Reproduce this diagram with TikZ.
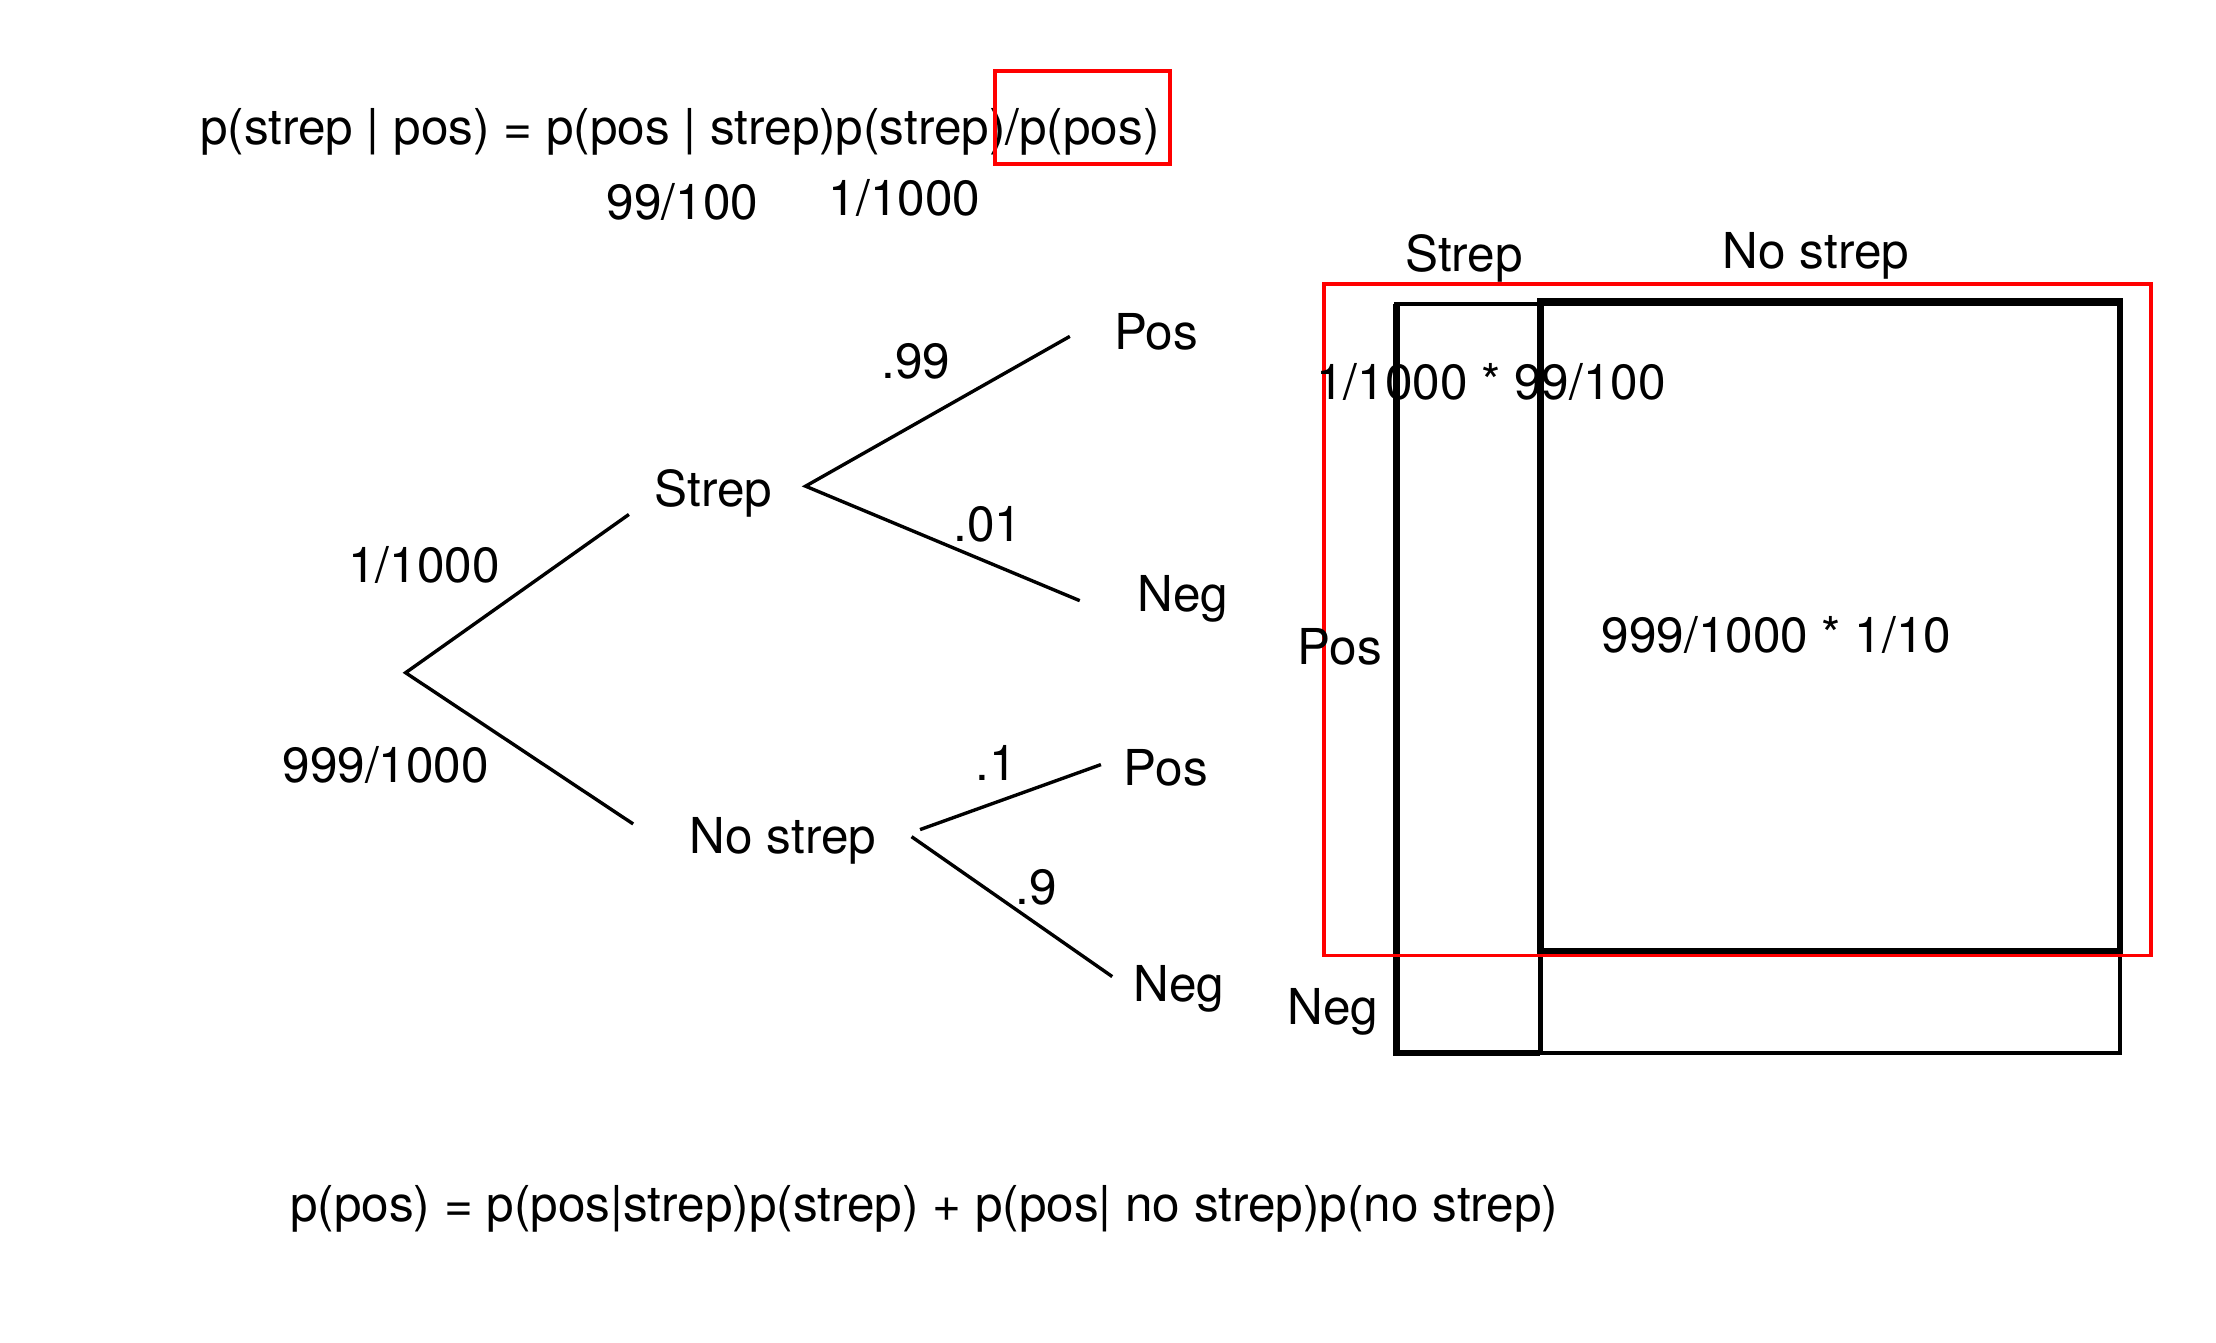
\documentclass[tikz,border=0pt]{standalone}
\usepackage{fontspec}
\setmainfont{TeX Gyre Heros}
\begin{document}
\begin{tikzpicture}[x=0.5pt,y=-0.5pt,
  txt/.style={inner sep=0pt,yshift=-1pt,font=\fontsize{17.5}{21}\selectfont},
  branch/.style={line width=1.2pt},
  redbox/.style={draw=red,line width=1.3pt}]
\useasboundingbox (0,0) rectangle (1568,950);
% formulas
\node[txt] (bayes) at (481,91) {p(strep | pos) = p(pos | strep)p(strep)/p(pos)};
\node[txt] (likel) at (483,141) {99/100};
\node[txt] (prior) at (640,138) {1/1000};
\draw[redbox] (704,50) rectangle (828,116);
\node[txt] (total) at (654,853) {p(pos) = p(pos|strep)p(strep) + p(pos| no strep)p(no strep)};
% tree
\coordinate (root) at (287,476);
\coordinate (s0) at (445,364);
\coordinate (n0) at (448,583);
\coordinate (s1) at (570,344);
\coordinate (sp) at (757,238);
\coordinate (sn) at (764,425);
\coordinate (n1) at (651,587);
\coordinate (np) at (779,541);
\coordinate (n2) at (645,592);
\coordinate (nn) at (787,691);
\draw[branch] (s0)--(root)--(n0);
\draw[branch] (sp)--(s1)--(sn);
\draw[branch] (n1)--(np);
\draw[branch] (n2)--(nn);
\node[txt] (strep) at (505,347) {Strep};
\node[txt] (nostrep) at (554,593) {No strep};
\node[txt] (ps) at (300,398) {1/1000};
\node[txt] (pns) at (273,539) {999/1000};
\node[txt] (spos) at (818,233) {Pos};
\node[txt] (sneg) at (837,422) {Neg};
\node[txt] (nspos) at (825,541) {Pos};
\node[txt] (nsneg) at (834,698) {Neg};
\node[txt] (p99) at (648,254) {.99};
\node[txt] (p01) at (699,369) {.01};
\node[txt] (p1) at (705,538) {.1};
\node[txt] (p9) at (733,626) {.9};
% area square
\draw[line width=1.2pt] (988,215) rectangle (1500,745);
\draw[line width=1.6pt] (988,215) rectangle (1090,745);
\draw[line width=2.4pt] (988,215) -- (988,745) -- (1090,745);
\draw[line width=2.4pt] (1090,213) rectangle (1500,673);
\draw[redbox] (937,201) rectangle (1522,676);
\node[txt] (colstrep) at (1036,181) {Strep};
\node[txt] (colno) at (1285,179) {No strep};
\node[txt] (rowpos) at (948,456) {Pos};
\node[txt] (rowneg) at (943,714) {Neg};
\node[txt] (cellsp) at (1055,268) {1/1000 * 99/100};
\node[txt] (cellnp) at (1257,447) {999/1000 * 1/10};
\end{tikzpicture}
\end{document}
